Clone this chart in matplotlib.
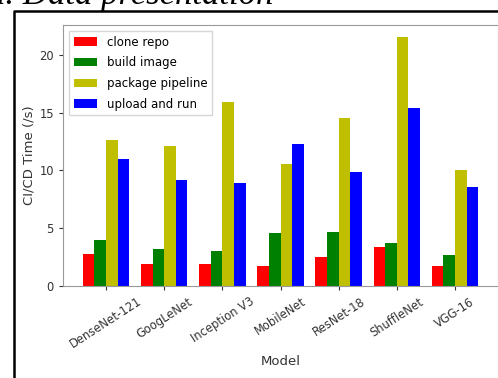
import matplotlib.pyplot as plt
from matplotlib.lines import Line2D
import numpy as np

models = ["DenseNet-121", "GoogLeNet", "Inception V3", "MobileNet",
          "ResNet-18", "ShuffleNet", "VGG-16"]
clone_repo = [2.75, 1.9, 1.9, 1.7, 2.55, 3.4, 1.7]
build_image = [4.0, 3.2, 3.05, 4.6, 4.7, 3.75, 2.7]
package_pipeline = [12.6, 12.15, 15.9, 10.55, 14.55, 21.5, 10.0]
upload_and_run = [11.0, 9.15, 8.9, 12.25, 9.85, 15.4, 8.6]

stages = ["clone repo", "build image", "package pipeline", "upload and run"]
colors = ["r", "g", "y", "b"]


def draw_frame(fig):
    # page border around the figure (left and top edges)
    x0 = 14 / 498
    y0 = 1 - 11 / 378
    fig.add_artist(Line2D([x0, x0, 1.01], [-0.01, y0, y0], color="black",
                          lw=1.8, transform=fig.transFigure))
    fig.text(-12 / 498, 1 - 4 / 378, "a. Data presentation", family="Liberation Serif",
             style="italic", fontsize=25, va="baseline", ha="left")


def main():
    fig = plt.figure(figsize=(4.98, 3.78), dpi=100)
    ax = fig.add_axes([63 / 498, 92 / 378, 435 / 498, 261 / 378])

    x = np.arange(len(models))
    width = 0.2
    series = [clone_repo, build_image, package_pipeline, upload_and_run]
    for i, values in enumerate(series):
        ax.bar(x + i * width, values, width, color=colors[i], label=stages[i])

    ax.set_xticks(x + 1.5 * width)
    ax.set_xticklabels(models, rotation=33, ha="center")
    ax.set_xlabel("Model", fontsize=9.5, color="#333333", labelpad=3)
    ax.set_ylabel("CI/CD Time (/s)", fontsize=9.5, color="#333333", labelpad=3)
    ax.tick_params(labelsize=8.3, colors="#333333", length=3)
    for spine in ax.spines.values():
        spine.set_color("#999999")

    ax.legend(loc="upper left", fontsize=8.5, handlelength=2, labelspacing=0.65,
              fancybox=False, edgecolor="#cccccc")

    draw_frame(fig)
    fig.savefig("out.png", dpi=100)


if __name__ == "__main__":
    main()
